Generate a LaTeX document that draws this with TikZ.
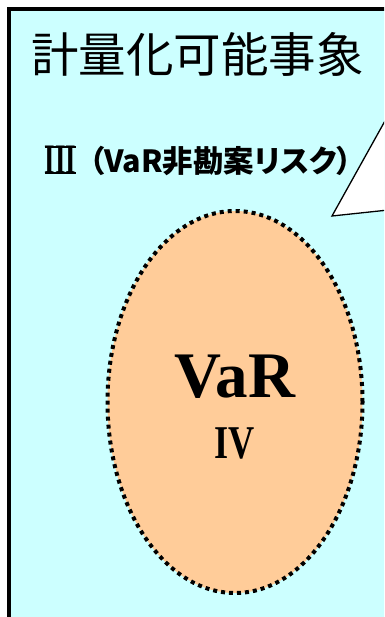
\documentclass[tikz,border=0pt]{standalone}
\usepackage{fontspec}
\usepackage{graphicx}
\usetikzlibrary{shapes.geometric}
\setmainfont{Liberation Serif}
\newfontfamily\jp{Noto Sans CJK JP}
\newfontfamily\jpp[RawFeature=+palt]{Noto Sans CJK JP}
\definecolor{skyfill}{HTML}{CCFFFF}
\definecolor{peach}{HTML}{FFCC99}
\tikzset{
  panel/.style={draw=black, line width=3.5pt, fill=skyfill},
  callout/.style={draw=black, line width=1.3pt, fill=white, line join=miter},
  riskoval/.style={ellipse, draw=black, fill=peach, line width=4pt, dash pattern=on 4pt off 4pt, inner sep=0pt},
  numeral/.style={inner sep=0pt, font=\bfseries},
}
\begin{document}
\begin{tikzpicture}[x=1pt, y=-1pt]
\useasboundingbox (0,0) rectangle (384,617);
\clip (0,0) rectangle (384,617);
\fill[white] (0,0) rectangle (384,617);
\draw[panel] (9,9) rectangle (430,660);
\draw[callout] (332,216) -- (410,76) -- (410,207.7) -- cycle;
\node (title) at (197.5,54) {\fontsize{47.5}{50}\selectfont\jp 計量化可能事象};
\node[numeral, anchor=base] (r3) at (60.5,174) {\fontsize{42}{42}\selectfont\scalebox{0.64}[1]{III}};
\fill (r3.north west) rectangle ([yshift=-2pt]r3.north east);
\fill (r3.south west) rectangle ([yshift=2pt]r3.south east);
\node[anchor=west, inner sep=0pt] (sub) at (89,161) {\fontsize{30.5}{32}\selectfont\jpp\bfseries （VaR非勘案リスク）};
\node[riskoval, minimum width=255pt, minimum height=382pt] (var) at (235,402) {};
\node[anchor=base, inner sep=0pt] (vartext) at (235,397) {\fontsize{65}{70}\selectfont\bfseries VaR};
\node[numeral, anchor=base] (r4) at (235,458) {\fontsize{47}{48}\selectfont\scalebox{0.77}[1]{IV}};
\end{tikzpicture}
\end{document}
